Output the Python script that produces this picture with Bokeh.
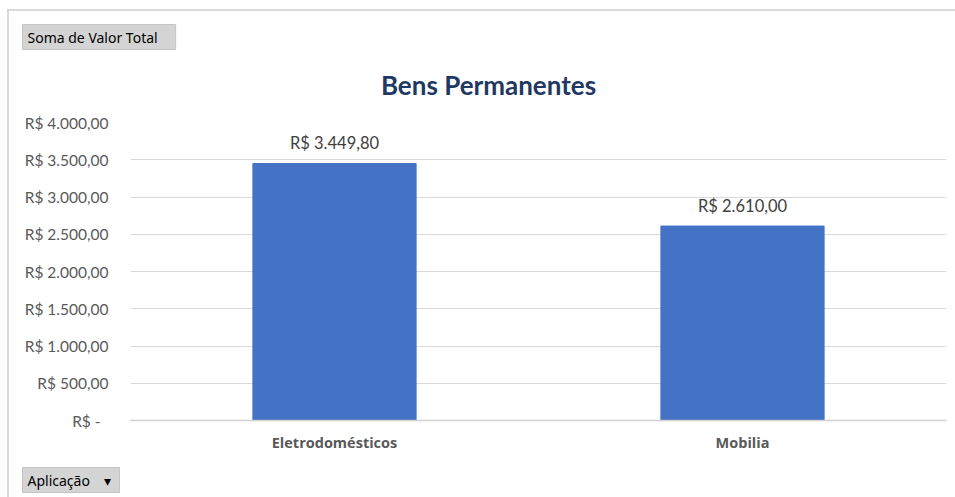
from bokeh.plotting import figure
from bokeh.models import ColumnDataSource, Label, FixedTicker, FactorRange
from bokeh.layouts import column
from bokeh.embed import file_html
from bokeh.resources import INLINE
from bokeh.core.properties import value

# ---- data ----
categories = ["Eletrodomésticos", "Mobilia"]
totals = [3449.80, 2610.00]
y_ticks = [0, 500, 1000, 1500, 2000, 2500, 3000, 3500, 4000]
y_tick_labels = ["R$ -\u00a0\u00a0", "R$ 500,00", "R$ 1.000,00", "R$ 1.500,00", "R$ 2.000,00",
                 "R$ 2.500,00", "R$ 3.000,00", "R$ 3.500,00", "R$ 4.000,00"]
title_text = "Bens Permanentes"
field_button = "Soma de Valor Total"
axis_button = "Aplicação\u00a0\u00a0\u00a0\u00a0\u25be"


def brl(v):
    s = f"{v:,.2f}"
    s = s.replace(",", "X").replace(".", ",").replace("X", ".")
    return "R$ " + s


labels = [brl(v) for v in totals]
source = ColumnDataSource(dict(cat=categories, val=totals, lab=labels))

W = 946
TOP_H, MAIN_H, BOT_H = 96, 357, 33


def blank(h):
    f = figure(width=W, height=h, x_range=(0, W), y_range=(0, h),
               output_backend="svg", toolbar_location=None,
               min_border=0, min_border_left=0, min_border_right=0,
               min_border_top=0, min_border_bottom=0)
    f.frame_align = False
    f.axis.visible = False
    f.grid.visible = False
    f.outline_line_color = None
    f.background_fill_color = "white"
    f.border_fill_color = "white"
    return f


def button(f, text, x, y_from_bottom, rpad):
    f.add_layout(Label(x=x, y=y_from_bottom, x_units="screen", y_units="screen", text=text,
                       text_align="left", text_baseline="middle", text_font="Noto Sans",
                       text_font_size="14px", text_color="#000000",
                       background_fill_color="#d4d4d4", border_line_color="#c4c4c4",
                       padding={"left": 5, "right": rpad, "top": 3, "bottom": 3}))


# ---- top strip: field button + title ----
top = blank(TOP_H)
button(top, field_button, 13, TOP_H - 25.5, 18)
top.add_layout(Label(x=479, y=TOP_H - 73, x_units="screen", y_units="screen", text=title_text,
                     text_align="center", text_baseline="middle", text_font="Lato",
                     text_font_style="bold", text_font_size="26px", text_color="#1F3864"))

# ---- main chart ----
p = figure(x_range=FactorRange(*categories), y_range=(0, 4000), width=W, height=MAIN_H,
           output_backend="svg", toolbar_location=None,
           min_border_left=121, min_border_right=9, min_border_top=15, min_border_bottom=44)
p.frame_align = False
p.outline_line_color = None
p.background_fill_color = "white"
p.border_fill_color = "white"

p.vbar(x="cat", top="val", width=0.4, source=source, color="#4472C4")
p.text(x="cat", y="val", text="lab", source=source, text_align="center",
       text_baseline="middle", y_offset=-20, text_font=value("Lato"),
       text_font_size="16.5px", text_color="#404040")

p.yaxis.ticker = FixedTicker(ticks=y_ticks)
p.yaxis.major_label_overrides = {t: l for t, l in zip(y_ticks, y_tick_labels)}
p.yaxis.axis_line_color = None
p.yaxis.major_tick_line_color = None
p.yaxis.minor_tick_line_color = None
p.yaxis.major_label_standoff = 16
p.yaxis.major_label_text_font = "Lato"
p.yaxis.major_label_text_font_size = "15.5px"
p.yaxis.major_label_text_color = "#595959"

p.xaxis.axis_line_color = "#d0d0d0"
p.xaxis.axis_line_width = 1.5
p.xaxis.major_tick_line_color = None
p.xaxis.minor_tick_line_color = None
p.xaxis.major_label_standoff = 6
p.xaxis.major_label_text_font = "Open Sans"
p.xaxis.major_label_text_font_style = "bold"
p.xaxis.major_label_text_font_size = "14.5px"
p.xaxis.major_label_text_color = "#595959"

p.xgrid.grid_line_color = None
p.ygrid.grid_line_color = "#d9d9d9"

# ---- bottom strip: axis field button ----
bot = blank(BOT_H)
button(bot, axis_button, 13, BOT_H - 15.5, 8)

layout = column(top, p, bot, spacing=0)
layout.styles = {"margin-left": "7px", "margin-top": "9px",
                 "border-top": "2px solid #d9d9d9", "border-left": "2px solid #d9d9d9"}

open("out.html", "w").write(file_html(layout, INLINE))
